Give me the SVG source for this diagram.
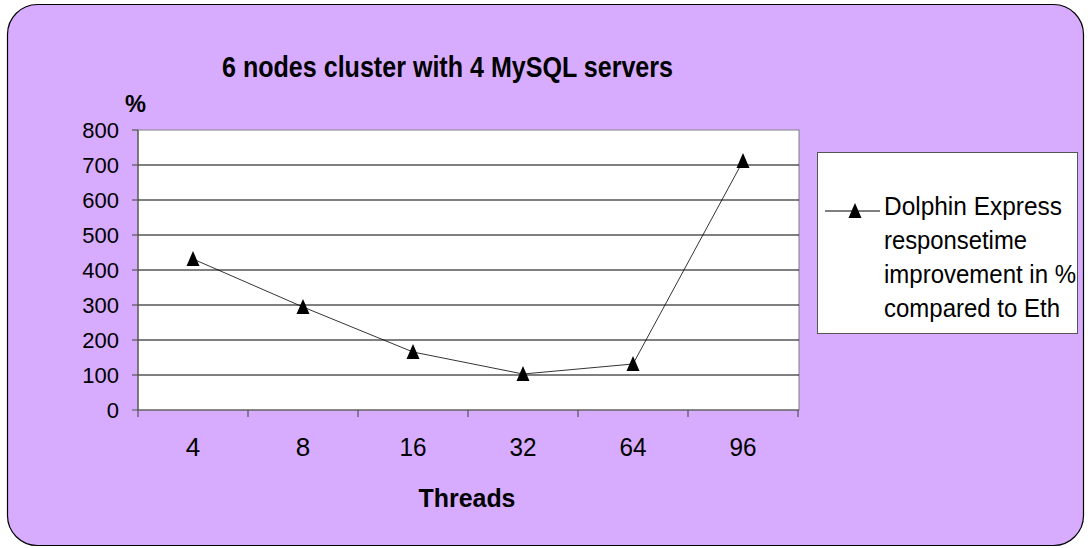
<svg xmlns="http://www.w3.org/2000/svg" width="1088" height="548" viewBox="0 0 1088 548">
<style>
text{font-family:"Liberation Sans",Arial,sans-serif;fill:#000}
.yl{font-size:22px;text-anchor:end}
.xl{font-size:26px;text-anchor:middle}
.lg{font-size:25px}
.grid{stroke:#000;stroke-width:1}
.tick{stroke:#555;stroke-width:1.2}
</style>
<defs>
<path id="tri" d="M0,-8 L6.5,7 L-6.5,7 Z" fill="#000"/>
</defs>
<g id="frame">
<rect x="7.5" y="4.5" width="1076" height="541" rx="30" ry="30" fill="#d7acff" stroke="#000" stroke-width="1.2"/>
</g>
<g id="title">
<text x="447.5" y="77" font-size="29" font-weight="bold" text-anchor="middle" textLength="451" lengthAdjust="spacingAndGlyphs">6 nodes cluster with 4 MySQL servers</text>
</g>
<g id="plot">
<rect x="138" y="130" width="661" height="280" fill="#fff" stroke="#808080" stroke-width="1"/>
<line class="grid" x1="138" y1="165" x2="799" y2="165"/>
<line class="grid" x1="138" y1="200" x2="799" y2="200"/>
<line class="grid" x1="138" y1="235" x2="799" y2="235"/>
<line class="grid" x1="138" y1="270" x2="799" y2="270"/>
<line class="grid" x1="138" y1="305" x2="799" y2="305"/>
<line class="grid" x1="138" y1="340" x2="799" y2="340"/>
<line class="grid" x1="138" y1="375" x2="799" y2="375"/>
</g>
<g id="axes">
<line class="tick" x1="138" y1="130" x2="138" y2="410"/>
<line class="tick" x1="132" y1="410" x2="799" y2="410"/>
<g class="tick">
<line x1="132" y1="130" x2="138" y2="130"/>
<line x1="132" y1="165" x2="138" y2="165"/>
<line x1="132" y1="200" x2="138" y2="200"/>
<line x1="132" y1="235" x2="138" y2="235"/>
<line x1="132" y1="270" x2="138" y2="270"/>
<line x1="132" y1="305" x2="138" y2="305"/>
<line x1="132" y1="340" x2="138" y2="340"/>
<line x1="132" y1="375" x2="138" y2="375"/>
<line x1="138" y1="410" x2="138" y2="417"/>
<line x1="248" y1="410" x2="248" y2="417"/>
<line x1="358" y1="410" x2="358" y2="417"/>
<line x1="468" y1="410" x2="468" y2="417"/>
<line x1="578" y1="410" x2="578" y2="417"/>
<line x1="688" y1="410" x2="688" y2="417"/>
<line x1="798" y1="410" x2="798" y2="417"/>
</g>
<text x="125" y="112" font-size="24" font-weight="bold" textLength="21" lengthAdjust="spacingAndGlyphs">%</text>
<text class="yl" x="119" y="138">800</text>
<text class="yl" x="119" y="173">700</text>
<text class="yl" x="119" y="208">600</text>
<text class="yl" x="119" y="243">500</text>
<text class="yl" x="119" y="278">400</text>
<text class="yl" x="119" y="313">300</text>
<text class="yl" x="119" y="348">200</text>
<text class="yl" x="119" y="383">100</text>
<text class="yl" x="119" y="418">0</text>
<text class="xl" x="193" y="456">4</text>
<text class="xl" x="303" y="456">8</text>
<text class="xl" x="413" y="456" textLength="27" lengthAdjust="spacingAndGlyphs">16</text>
<text class="xl" x="523" y="456" textLength="27" lengthAdjust="spacingAndGlyphs">32</text>
<text class="xl" x="633" y="456" textLength="27" lengthAdjust="spacingAndGlyphs">64</text>
<text class="xl" x="743" y="456" textLength="27" lengthAdjust="spacingAndGlyphs">96</text>
<text x="467" y="507" font-size="26" font-weight="bold" text-anchor="middle" textLength="97" lengthAdjust="spacingAndGlyphs">Threads</text>
</g>
<g id="series">
<polyline points="193,259 303,307 413,352 523,374 633,364 743,161" fill="none" stroke="#000" stroke-width="0.8"/>
<use href="#tri" x="193" y="259"/>
<use href="#tri" x="303" y="307"/>
<use href="#tri" x="413" y="352"/>
<use href="#tri" x="523" y="374"/>
<use href="#tri" x="633" y="364"/>
<use href="#tri" x="743" y="161"/>
</g>
<g id="legend">
<rect x="817.5" y="152.5" width="260" height="181" fill="#fff" stroke="#555" stroke-width="1"/>
<line x1="825" y1="211" x2="880" y2="211" stroke="#000" stroke-width="1"/>
<use href="#tri" x="855" y="211"/>
<text class="lg" x="884" y="215" textLength="178" lengthAdjust="spacingAndGlyphs">Dolphin Express</text>
<text class="lg" x="884" y="249" textLength="143" lengthAdjust="spacingAndGlyphs">responsetime</text>
<text class="lg" x="884" y="283" textLength="192" lengthAdjust="spacingAndGlyphs">improvement in %</text>
<text class="lg" x="884" y="317" textLength="176" lengthAdjust="spacingAndGlyphs">compared to Eth</text>
</g>
</svg>
